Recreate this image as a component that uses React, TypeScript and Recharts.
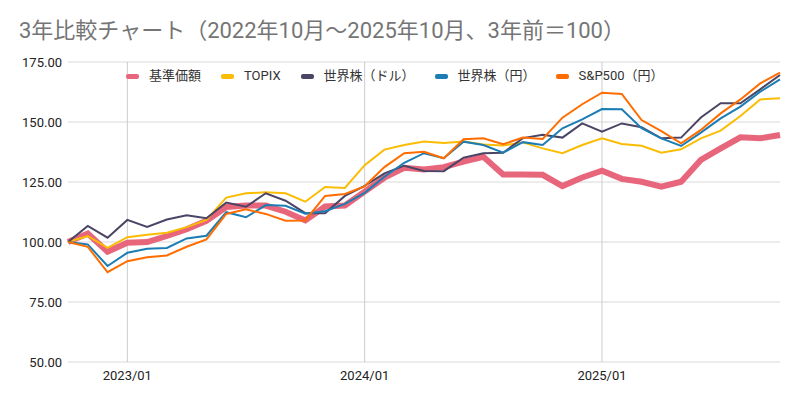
import { LineChart, Line, XAxis, YAxis, CartesianGrid, ReferenceLine } from "recharts";

// 2022/10 〜 2025/10 の月次（3年前＝100）
const months = [
  "2022/10", "2022/11", "2022/12",
  "2023/01", "2023/02", "2023/03", "2023/04", "2023/05", "2023/06",
  "2023/07", "2023/08", "2023/09", "2023/10", "2023/11", "2023/12",
  "2024/01", "2024/02", "2024/03", "2024/04", "2024/05", "2024/06",
  "2024/07", "2024/08", "2024/09", "2024/10", "2024/11", "2024/12",
  "2025/01", "2025/02", "2025/03", "2025/04", "2025/05", "2025/06",
  "2025/07", "2025/08", "2025/09", "2025/10",
];

const kijun = [
  100, 103.5, 96, 99.7, 100, 102.5, 105.3, 108.8, 114.6, 115.2, 115.2, 112.6,
  109, 114.8, 115.2, 121, 126.8, 130.9, 130.2, 131.2, 133.5, 135.5, 128.1, 128.1,
  128, 123.3, 126.9, 129.7, 126.3, 125.1, 123.1, 125.1, 134.2, 139, 143.6, 143.2, 144.6,
];
const topix = [
  100, 102.5, 97.6, 102, 103, 103.9, 106.2, 109.2, 118.5, 120.3, 120.7, 120.3,
  116.8, 122.9, 122.5, 132, 138.5, 140.4, 141.9, 141.3, 141.9, 140.6, 140.2, 141.5,
  139, 137, 140.4, 143.2, 140.8, 140.1, 137.2, 138.6, 143.2, 146.4, 152.5, 159.4, 159.9,
];
const worldUsd = [
  100, 106.7, 101.8, 109.2, 106.3, 109.4, 111.1, 109.9, 116.4, 114.7, 120.3, 117.2,
  112, 112, 119.2, 123.4, 128.6, 131.8, 129.6, 129.5, 135.1, 137, 137.2, 143.3,
  144.7, 143.5, 149.4, 146, 149.4, 147.8, 143.2, 143.5, 151.9, 157.8, 157.8, 163.6, 169.6,
];
const worldJpy = [
  100, 99, 90, 95.5, 97.2, 97.5, 101.5, 102.6, 112.4, 110.3, 115.4, 115.1,
  111.8, 112.8, 115.9, 120.5, 127.2, 133, 137, 134.9, 141.8, 140.4, 137.2, 141.6,
  140.4, 147.4, 151.1, 155.4, 155.3, 147.4, 143.2, 140, 145.6, 151.5, 156.4, 162.6, 167.8,
];
const sp500Jpy = [
  100, 98, 87.4, 92, 93.6, 94.4, 98, 101.1, 111.7, 113.6, 111.7, 108.9,
  109, 119.2, 120, 123.2, 131.2, 137, 137.6, 134.9, 142.8, 143.2, 140.7, 143.5,
  142.9, 151.8, 157.4, 162.2, 161.7, 150.8, 146.2, 141.1, 146.7, 153.6, 159.4, 166.1, 170.6,
];

const yTicks = [50, 75, 100, 125, 150, 175];
const janTicks = ["2023/01", "2024/01", "2025/01"];

const series = [
  { key: "kijun", name: "基準価額", color: "#e8667c", width: 6 },
  { key: "topix", name: "TOPIX", color: "#fbbc04", width: 2 },
  { key: "worldUsd", name: "世界株（ドル）", color: "#4b4565", width: 2 },
  { key: "worldJpy", name: "世界株（円）", color: "#1b7db4", width: 2 },
  { key: "sp500Jpy", name: "S&P500（円）", color: "#ff6d01", width: 2 },
];

const data = months.map((m, i) => ({
  month: m,
  kijun: kijun[i],
  topix: topix[i],
  worldUsd: worldUsd[i],
  worldJpy: worldJpy[i],
  sp500Jpy: sp500Jpy[i],
}));

const font = "Roboto, 'Noto Sans CJK JP', sans-serif";

export default function App() {
  return (
    <div style={{ position: "absolute", left: 0, top: 0, width: 800, height: 403, background: "#fff", fontFamily: font }}>
      <div style={{ position: "absolute", left: 19, top: 17, fontSize: 22, lineHeight: "28px", color: "#757575" }}>
        3年比較チャート（2022年10月～2025年10月、3年前＝100）
      </div>
      <LineChart width={800} height={403} data={data} margin={{ top: 62, right: 20, bottom: 11, left: 0 }}>
        <CartesianGrid vertical={false} stroke="#d9d9d9" />
        {janTicks.map((t) => (
          <ReferenceLine key={t} x={t} stroke="#cccccc" />
        ))}
        <XAxis
          dataKey="month"
          ticks={janTicks}
          interval={0}
          axisLine={false}
          tickLine={false}
          tickSize={0}
          tickMargin={9}
          height={30}
          tick={{ fontSize: 13, fill: "#222", fontFamily: font }}
        />
        <YAxis
          domain={[50, 175]}
          ticks={yTicks}
          width={68}
          axisLine={false}
          tickLine={false}
          tickSize={0}
          tickMargin={6}
          tickFormatter={(v: number) => v.toFixed(2)}
          tick={{ fontSize: 13, fill: "#222", fontFamily: font }}
        />
        {series.map((s) => (
          <Line
            key={s.key}
            dataKey={s.key}
            name={s.name}
            type="linear"
            stroke={s.color}
            strokeWidth={s.width}
            dot={false}
            activeDot={false}
            isAnimationActive={false}
          />
        ))}
      </LineChart>
      <div style={{ position: "absolute", left: 126, top: 66, display: "flex", alignItems: "center", fontSize: 13, color: "#333", lineHeight: "20px" }}>
        {series.map((s) => (
          <div key={s.key} style={{ display: "flex", alignItems: "center", marginRight: 20 }}>
            <span style={{ display: "inline-block", width: 13, height: 5, borderRadius: 2, background: s.color, marginRight: 10 }} />
            <span>{s.name}</span>
          </div>
        ))}
      </div>
    </div>
  );
}
